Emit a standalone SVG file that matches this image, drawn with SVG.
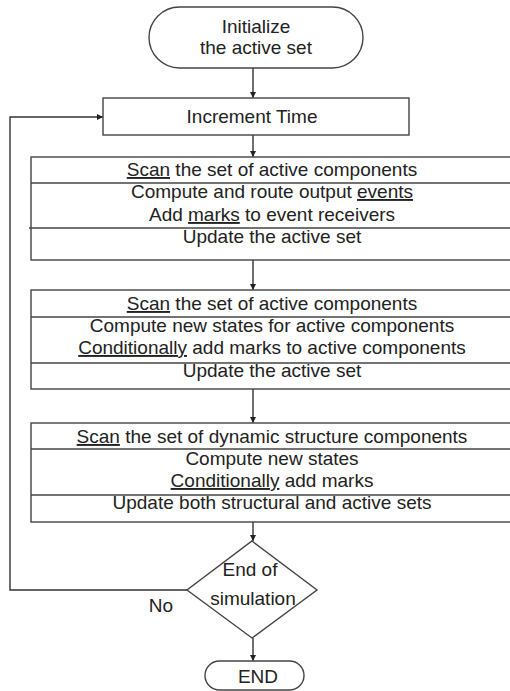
<svg xmlns="http://www.w3.org/2000/svg" width="510" height="691" viewBox="0 0 510 691">
  <style>
    .shape { fill: #ffffff; stroke: #444444; stroke-width: 1.4; }
    .div { stroke: #444444; stroke-width: 1.4; fill: none; }
    .link { stroke: #333333; stroke-width: 1.4; fill: none; }
    text { font-family: "Liberation Sans", Arial, sans-serif; font-size: 19px; fill: #222222; text-anchor: middle; }
    .u { text-decoration: underline; }
  </style>
  <defs>
    <marker id="arrow" viewBox="0 0 10 10" refX="10" refY="5" markerWidth="6" markerHeight="6" markerUnits="userSpaceOnUse" orient="auto">
      <path d="M0,0 L10,5 L0,10 z" fill="#222222"/>
    </marker>
  </defs>

  <rect width="510" height="691" fill="#ffffff"/>

  <g id="connectors">
    <line class="link" x1="253" y1="68" x2="253" y2="98" marker-end="url(#arrow)"/>
    <line class="link" x1="253" y1="135" x2="253" y2="157" marker-end="url(#arrow)"/>
    <line class="link" x1="253" y1="260" x2="253" y2="290" marker-end="url(#arrow)"/>
    <line class="link" x1="253" y1="389" x2="253" y2="423" marker-end="url(#arrow)"/>
    <line class="link" x1="253" y1="522" x2="253" y2="541" marker-end="url(#arrow)"/>
    <line class="link" x1="253" y1="638" x2="253" y2="661" marker-end="url(#arrow)"/>
    <polyline class="link" points="187,590 10,590 10,117 103,117" marker-end="url(#arrow)"/>
    <text x="161" y="612">No</text>
  </g>

  <g id="start">
    <rect class="shape" x="149" y="7" width="214" height="61" rx="30.5" ry="30.5"/>
    <text x="256" y="33">Initialize</text>
    <text x="256" y="54">the active set</text>
  </g>

  <g id="increment-time">
    <rect class="shape" x="103" y="98" width="306" height="37"/>
    <text x="252" y="123">Increment Time</text>
  </g>

  <g id="output-phase">
    <rect class="shape" x="31" y="157" width="485" height="103"/>
    <line class="div" x1="31" y1="183" x2="516" y2="183"/>
    <line class="div" x1="29" y1="228" x2="516" y2="228"/>
    <text x="272" y="176"><tspan class="u">Scan</tspan> the set of active components</text>
    <text x="272" y="198">Compute and route output <tspan class="u">events</tspan></text>
    <text x="272" y="221">Add <tspan class="u">marks</tspan> to event receivers</text>
    <text x="272" y="243">Update the active set</text>
  </g>

  <g id="state-phase">
    <rect class="shape" x="31" y="290" width="485" height="99"/>
    <line class="div" x1="31" y1="317" x2="516" y2="317"/>
    <line class="div" x1="31" y1="363" x2="516" y2="363"/>
    <text x="272" y="310"><tspan class="u">Scan</tspan> the set of active components</text>
    <text x="272" y="332">Compute new states for active components</text>
    <text x="272" y="354"><tspan class="u">Conditionally</tspan> add marks to active components</text>
    <text x="272" y="377">Update the active set</text>
  </g>

  <g id="structure-phase">
    <rect class="shape" x="31" y="423" width="485" height="99"/>
    <line class="div" x1="31" y1="449" x2="516" y2="449"/>
    <line class="div" x1="31" y1="495" x2="516" y2="495"/>
    <text x="272" y="443"><tspan class="u">Scan</tspan> the set of dynamic structure components</text>
    <text x="272" y="465">Compute new states</text>
    <text x="272" y="487"><tspan class="u">Conditionally</tspan> add marks</text>
    <text x="272" y="509">Update both structural and active sets</text>
  </g>

  <g id="end-check">
    <polygon class="shape" points="252,541 317,590 252,638 187,590"/>
    <text x="250" y="576">End of</text>
    <text x="253" y="605">simulation</text>
  </g>

  <g id="end">
    <rect class="shape" x="205" y="661" width="99" height="29" rx="14.5" ry="14.5"/>
    <text x="258" y="683">END</text>
  </g>
</svg>
